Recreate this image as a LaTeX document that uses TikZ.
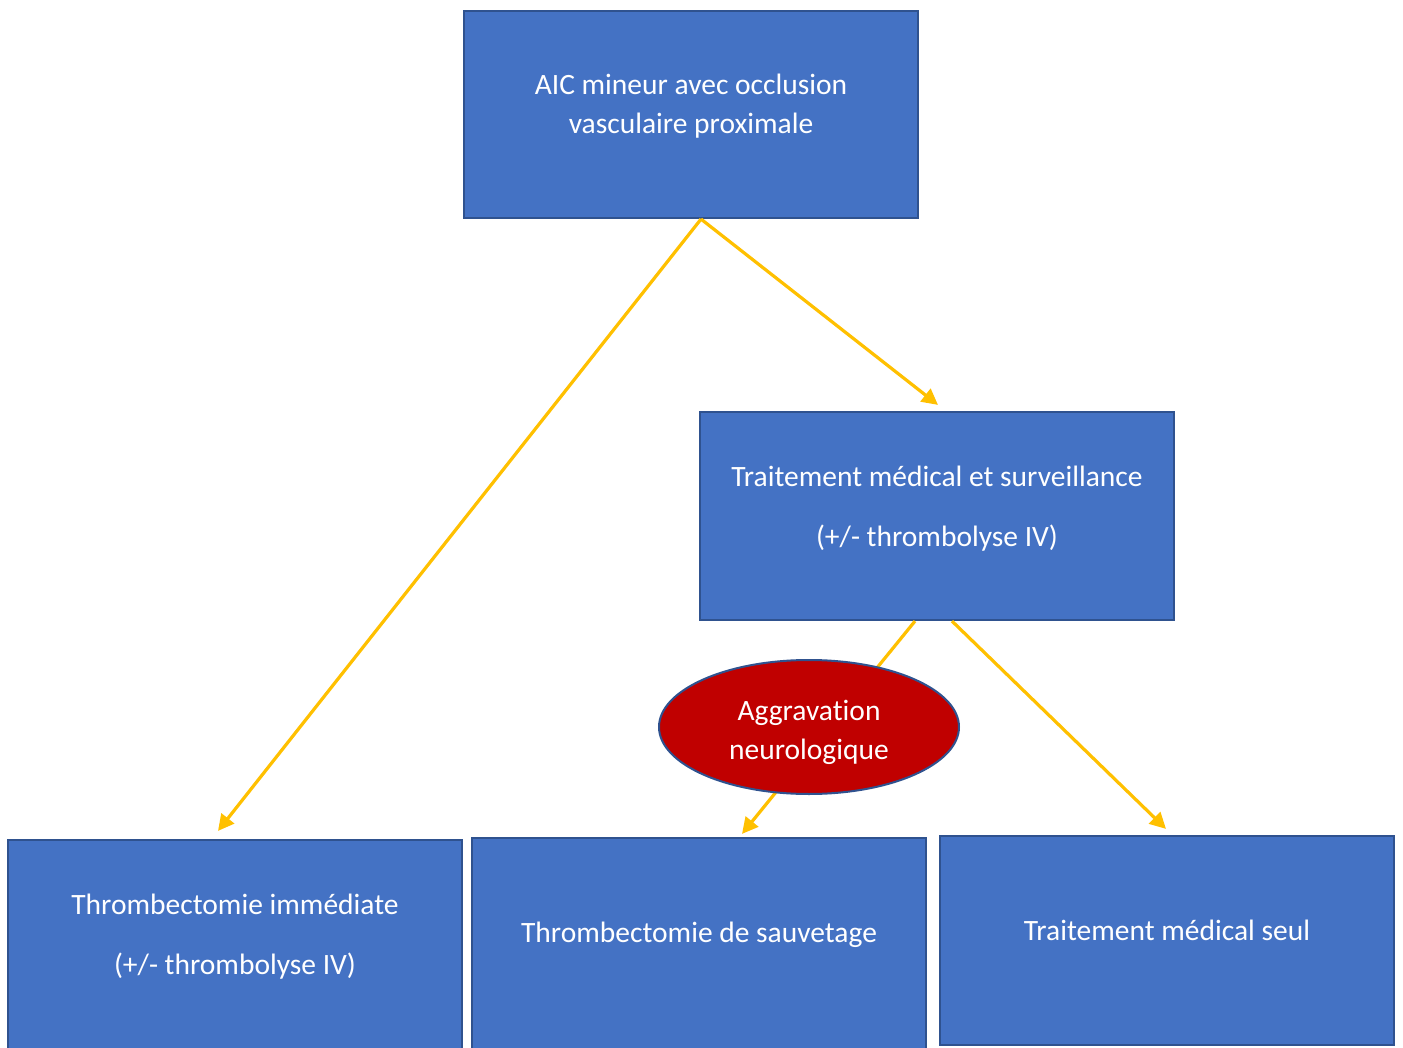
\documentclass[tikz,border=0pt]{standalone}
\usepackage{fontspec}
\setmainfont{Carlito}[Ligatures=NoCommon]
\usetikzlibrary{arrows.meta,shapes.geometric}
\definecolor{boxfill}{HTML}{4472C4}
\definecolor{boxline}{HTML}{2F528F}
\definecolor{ellred}{HTML}{C00000}
\definecolor{arrowc}{HTML}{FFC000}
\begin{document}
\begin{tikzpicture}[x=1pt,y=-1pt,
  box/.style={draw=boxline, fill=boxfill, line width=2.2pt, rectangle, inner sep=0pt},
  lbl/.style={text=white, font=\fontsize{29.5}{39}\selectfont, align=center, inner sep=0pt},
  conn/.style={draw=arrowc, line width=3.2pt, -{Triangle[length=16pt,width=16pt]}}]
\clip (0,0) rectangle (1403,1048);
\fill[white] (0,0) rectangle (1403,1048);
% boxes
\node[box, minimum width=454pt, minimum height=207pt] (top) at (691,114.5) {};
\node[box, minimum width=474pt, minimum height=208pt] (mid) at (937,516) {};
\node[box, minimum width=454pt, minimum height=216pt] (bl) at (235,948) {};
\node[box, minimum width=454pt, minimum height=218pt] (bm) at (699,947) {};
\node[box, minimum width=454pt, minimum height=209pt] (br) at (1167,940.5) {};
% connectors
\draw[conn] ([xshift=10pt]top.south) -- ([xshift=-17pt,yshift=8pt]bl.north);
\draw[conn] ([xshift=10pt]top.south) -- ([xshift=1pt,yshift=6pt]mid.north);
\draw[conn] ([xshift=-22pt]mid.south) -- ([xshift=43pt,yshift=3pt]bm.north);
\draw[conn] ([xshift=15pt]mid.south) -- ([xshift=-1pt,yshift=6pt]br.north);
% ellipse
\node[ellipse, draw=boxline, fill=ellred, line width=2pt, minimum width=300pt, minimum height=134pt, inner sep=0pt] (agg) at (809,727) {};
% texts
\node[lbl] (toptext) at (691,106.5) {AIC mineur avec occlusion\\vasculaire proximale};
\node[lbl] (midtext) at (937,509) {Traitement médical et surveillance\\[21pt](+/- thrombolyse IV)};
\node[lbl] (bltext) at (235,937) {Thrombectomie immédiate\\[21pt](+/- thrombolyse IV)};
\node[lbl] (bmtext) at (699,935) {Thrombectomie de sauvetage};
\node[lbl] (brtext) at (1167,930) {Traitement médical seul};
\node[lbl] (aggtext) at (809,732) {Aggravation\\neurologique};
\end{tikzpicture}
\end{document}
